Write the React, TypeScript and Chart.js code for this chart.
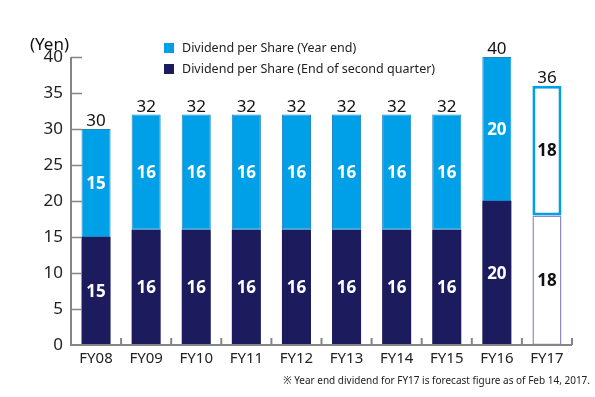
import React, { useEffect, useRef } from "react";
import { Chart, registerables } from "chart.js";

Chart.register(...registerables);

const categories = ["FY08", "FY09", "FY10", "FY11", "FY12", "FY13", "FY14", "FY15", "FY16", "FY17"];
const secondQuarter = [15, 16, 16, 16, 16, 16, 16, 16, 20, 18];
const yearEnd = [15, 16, 16, 16, 16, 16, 16, 16, 20, 18];
const totals = [30, 32, 32, 32, 32, 32, 32, 32, 40, 36];
const forecast = [false, false, false, false, false, false, false, false, false, true];
const yTicks = [0, 5, 10, 15, 20, 25, 30, 35, 40];
const legendLabels = ["Dividend per Share (Year end)", "Dividend per Share (End of second quarter)"];
const unitLabel = "(Yen)";
const footnote = "※ Year end dividend for FY17 is forecast figure as of Feb 14, 2017.";

const LIGHT = "#00a0e9";
const NAVY = "#1b1b5e";
const AXIS = "#858585";
const FONT = "'Noto Sans', 'Open Sans', sans-serif";

const overlay = {
  id: "overlay",
  afterDatasetsDraw(chart: any) {
    const ctx = chart.ctx;
    const area = chart.chartArea;
    const x = chart.scales.x;
    const y = chart.scales.y;
    ctx.save();
    // axes
    ctx.strokeStyle = AXIS;
    ctx.lineWidth = 2;
    ctx.beginPath();
    ctx.moveTo(area.left, y.getPixelForValue(40));
    ctx.lineTo(area.left, area.bottom);
    ctx.lineTo(area.right, area.bottom);
    ctx.stroke();
    // y ticks inward
    ctx.lineWidth = 1.5;
    yTicks.forEach((v) => {
      if (v === 0) return;
      const py = Math.round(y.getPixelForValue(v)) + 0.5;
      ctx.beginPath();
      ctx.moveTo(area.left, py);
      ctx.lineTo(area.left + 11, py);
      ctx.stroke();
    });
    // x ticks upward at category boundaries
    ctx.lineWidth = 2;
    for (let i = 1; i <= categories.length; i++) {
      const px = i < categories.length
        ? (x.getPixelForValue(i - 1) + x.getPixelForValue(i)) / 2
        : area.right;
      ctx.beginPath();
      ctx.moveTo(px, area.bottom);
      ctx.lineTo(px, area.bottom - 7);
      ctx.stroke();
    }
    // inner labels
    ctx.textAlign = "center";
    ctx.textBaseline = "middle";
    ctx.font = `bold 17px ${FONT}`;
    chart.data.datasets.forEach((ds: any, di: number) => {
      const meta = chart.getDatasetMeta(di);
      meta.data.forEach((el: any, i: number) => {
        ctx.fillStyle = forecast[i] ? "#111" : "#fff";
        ctx.fillText(String(ds.data[i]), el.x, (el.y + el.base) / 2 + 1);
      });
    });
    // totals
    ctx.font = `17px ${FONT}`;
    ctx.fillStyle = "#111";
    ctx.textBaseline = "alphabetic";
    const topMeta = chart.getDatasetMeta(1);
    topMeta.data.forEach((el: any, i: number) => {
      ctx.fillText(String(totals[i]), el.x, el.y - 3);
    });
    // unit label
    ctx.font = `17px ${FONT}`;
    ctx.textAlign = "left";
    ctx.textBaseline = "middle";
    ctx.fillText(unitLabel, 30, 45);
    // legend
    const colors = [LIGHT, NAVY];
    ctx.font = `12.5px ${FONT}`;
    legendLabels.forEach((t, i) => {
      const ly = 48 + i * 21;
      ctx.fillStyle = colors[i];
      ctx.fillRect(164, ly - 5, 10, 10);
      ctx.fillStyle = "#222";
      ctx.fillText(t, 182, ly);
    });
    // footnote
    ctx.font = `10px ${FONT}`;
    ctx.textAlign = "right";
    ctx.fillText(footnote, 590, 381);
    ctx.restore();
  },
};

export default function App() {
  const ref = useRef<HTMLCanvasElement>(null);
  useEffect(() => {
    const chart = new Chart(ref.current as HTMLCanvasElement, {
      type: "bar",
      data: {
        labels: categories,
        datasets: [
          {
            label: legendLabels[1],
            data: secondQuarter,
            backgroundColor: forecast.map((f) => (f ? "#ffffff" : NAVY)),
            borderColor: forecast.map((f) => (f ? "#8c8cc6" : NAVY)),
            borderWidth: forecast.map((f) => (f ? 1.5 : 0)),
            borderSkipped: false,
            stack: "s",
          },
          {
            label: legendLabels[0],
            data: yearEnd,
            backgroundColor: forecast.map((f) => (f ? "#ffffff" : LIGHT)),
            borderColor: forecast.map((f) => (f ? LIGHT : "#1a86c4")),
            borderWidth: forecast.map((f) => (f ? 3 : 1)),
            borderSkipped: false,
            stack: "s",
          },
        ],
      },
      options: {
        responsive: false,
        animation: false,
        layout: { padding: { top: 57, right: 23, left: 0, bottom: 0 } },
        plugins: { legend: { display: false }, tooltip: { enabled: false } },
        datasets: { bar: { categoryPercentage: 1, barPercentage: 0.58 } },
        scales: {
          x: {
            stacked: true,
            grid: { display: false, drawTicks: false },
            border: { display: false },
            ticks: { color: "#222", font: { family: FONT, size: 15 }, padding: 5 },
            afterFit: (s: any) => { s.height = 52; },
          },
          y: {
            stacked: true,
            min: 0,
            max: 40,
            grid: { display: false, drawTicks: false },
            border: { display: false },
            ticks: { stepSize: 5, color: "#222", font: { family: FONT, size: 17 }, padding: 8 },
            afterFit: (s: any) => { s.width = 71; },
          },
        },
      },
      plugins: [overlay],
    });
    return () => chart.destroy();
  }, []);
  return (
    <div style={{ position: "absolute", left: 0, top: 0, width: 595, height: 397, background: "#fff" }}>
      <canvas ref={ref} width={595} height={397} />
    </div>
  );
}
